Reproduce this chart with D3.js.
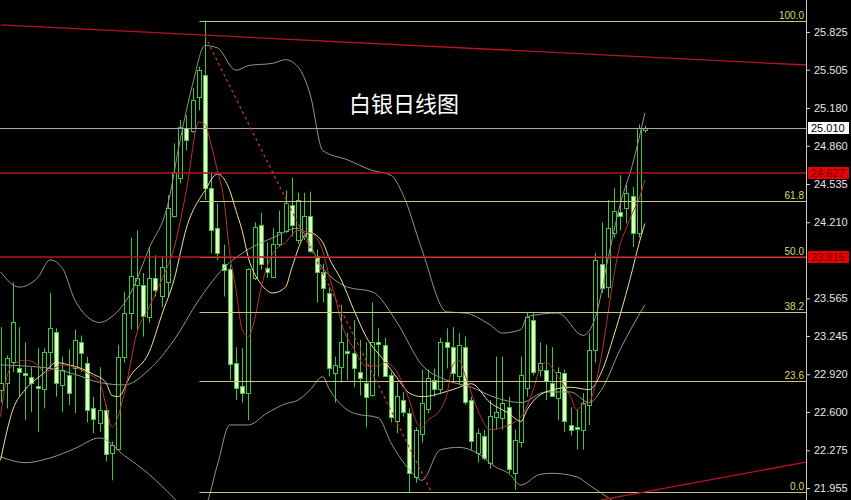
<!DOCTYPE html>
<html><head><meta charset="utf-8">
<script src="https://cdn.jsdelivr.net/npm/d3@7"></script>
<style>html,body{margin:0;padding:0;background:#000;overflow:hidden}</style>
</head><body><svg id="c" width="851" height="500"></svg>
<script>
// ---- data (daily silver candles) ----
const opens  = [22.79,22.85,23.02,22.97,22.93,22.90,22.82,22.80,23.11,23.28,22.83,22.91,22.97,23.19,23.02,22.63,22.51,22.62,22.25,22.29,
23.07,23.44,23.68,23.68,23.41,23.74,23.58,23.70,24.27,24.59,25.01,24.99,25.27,25.46,24.50,24.16,23.86,23.81,23.02,22.82,
22.76,23.74,24.19,23.82,23.75,24.03,24.13,24.36,24.06,24.09,24.26,23.92,23.79,23.61,22.93,22.98,23.12,23.10,22.94,22.85,
22.74,23.19,23.17,22.91,22.53,22.70,22.59,22.05,22.42,22.63,22.87,22.79,23.19,23.15,22.91,23.15,22.70,22.25,22.40,22.17,
22.56,22.55,22.64,22.08,22.34,22.81,23.38,22.96,22.96,22.85,22.72,22.93,22.49,22.47,22.45,22.66,23.13,23.86,23.66,24.12,
24.30,24.33,24.43,24.12,24.99];
const highs  = [23.32,23.08,23.70,23.32,23.19,22.98,23.14,23.14,23.61,23.31,23.07,23.13,23.30,23.25,23.07,22.73,22.98,22.66,22.35,23.17,
23.62,24.08,24.14,23.78,24.00,23.93,23.92,24.44,24.88,25.08,25.12,25.35,25.53,25.92,24.63,24.37,24.02,23.85,23.15,23.14,
23.82,24.21,24.29,24.04,24.16,24.31,24.48,24.59,24.46,24.46,24.47,23.98,23.86,23.66,23.07,23.51,23.27,23.38,23.21,23.19,
23.53,23.31,23.23,22.94,22.85,22.77,22.63,22.47,22.96,22.96,22.97,23.23,23.31,23.32,23.27,23.24,22.73,22.46,22.45,22.70,
23.07,23.07,22.73,22.45,23.07,23.44,23.44,23.19,23.17,23.15,22.98,22.96,22.64,22.62,22.76,23.27,23.95,24.21,24.40,24.50,
24.61,24.53,24.51,25.04,25.03];
const lows   = [22.68,22.63,22.94,22.73,22.53,22.60,22.43,22.63,22.96,22.73,22.60,22.66,22.59,22.94,22.51,22.42,22.43,22.18,22.02,22.28,
23.02,23.30,23.30,23.24,23.36,23.58,23.49,23.58,24.25,24.54,24.82,24.97,25.16,24.40,23.95,23.89,23.58,22.87,22.70,22.68,
22.53,23.72,23.81,23.74,23.74,24.00,24.12,24.09,24.03,24.06,23.95,23.53,23.53,22.90,22.68,22.85,22.87,22.81,22.74,22.47,
22.73,22.90,22.90,22.51,22.42,22.56,21.92,22.00,22.34,22.59,22.73,22.76,22.97,22.85,22.83,22.66,22.28,22.17,22.19,22.12,
22.45,22.45,22.08,21.94,22.30,22.73,22.91,22.90,22.70,22.73,22.53,22.43,22.40,22.28,22.28,22.49,23.02,23.61,23.57,24.08,
24.14,24.20,24.00,24.08,24.97];
const closes = [22.85,23.06,23.36,22.94,22.91,22.85,22.80,23.11,23.31,22.85,22.96,22.76,23.21,23.10,22.62,22.54,22.62,22.25,22.32,23.07,
23.44,23.75,23.74,23.42,23.74,23.64,23.83,24.33,24.64,25.02,24.91,25.25,25.50,24.50,24.14,23.95,23.81,23.00,22.81,22.76,
23.81,24.17,23.86,23.79,24.03,24.13,24.37,24.19,24.40,24.26,23.96,23.78,23.65,22.97,23.00,23.19,23.10,22.97,22.89,22.73,
23.19,23.17,22.91,22.55,22.74,22.60,22.08,22.45,22.68,22.89,22.79,23.19,23.15,22.93,23.17,22.68,22.35,22.42,22.21,22.57,
22.60,22.68,22.11,22.36,22.91,23.41,22.94,23.02,22.87,22.74,22.94,22.52,22.45,22.45,22.68,23.13,23.89,23.66,24.16,24.31,
24.27,24.46,24.12,25.01,25.01];

// indicator lines: [candle index, price]
const maFast = [[0,22.56],[1,22.89],[2,23.00],[4,23.04],[6,23.00],[7,22.94],[9,22.98],[10,23.00],[12,22.98],[14,22.93],[16,22.85],[17,22.66],[18,22.47],
[20,22.76],[22,23.27],[24,23.49],[26,23.72],[28,23.99],[30,24.48],[32,25.06],[33,25.04],[34,24.87],[35,24.65],[36,24.42],[37,23.95],[38,23.64],[39,23.30],
[40,23.24],[41,23.38],[42,23.64],[44,23.95],[46,24.04],[48,24.14],[50,24.12],[52,23.97],[53,23.76],[54,23.58],[55,23.36],[57,23.14],[59,22.99],[61,22.99],
[62,23.02],[64,22.94],[65,22.83],[66,22.70],[67,22.53],[68,22.47],[69,22.53],[71,22.62],[72,22.74],[73,23.00],[74,23.04],[75,22.91],[77,22.62],[79,22.45],
[81,22.47],[84,22.56],[86,22.79],[87,22.96],[88,23.02],[90,22.90],[92,22.73],[93,22.62],[94,22.66],[95,22.68],[96,22.83],[97,23.08],[98,23.42],[99,23.76],
[100,24.02],[101,24.16],[102,24.29],[103,24.40],[104,24.57]];
const maSlow = [[0,22.19],[2,22.62],[4,22.79],[7,22.93],[9,23.02],[11,23.00],[13,22.97],[15,22.92],[17,22.85],[18,22.74],[19,22.73],[21,22.91],[24,23.11],
[26,23.42],[28,23.72],[30,24.16],[33,24.48],[35,24.62],[37,24.48],[38,24.31],[39,24.14],[40,23.91],[42,23.69],[44,23.61],[46,23.66],[47,23.82],[49,24.09],
[50,24.12],[52,24.04],[53,23.91],[55,23.72],[57,23.47],[59,23.24],[62,23.03],[64,22.89],[66,22.76],[68,22.73],[73,22.79],[76,22.84],[79,22.68],[82,22.59],
[84,22.52],[85,22.62],[88,22.77],[92,22.81],[95,22.79],[97,22.94],[99,23.25],[102,23.81],[103,24.02],[104,24.20]];
const bandUpper = [[0,23.79],[3,23.66],[6,23.74],[8,23.89],[10,23.82],[12,23.55],[16,23.36],[18,23.41],[21,23.61],[24,23.99],[27,24.36],[29,24.91],[31,25.38],
[33,25.71],[35,25.69],[38,25.50],[40,25.54],[44,25.56],[46,25.59],[48,25.53],[50,25.29],[52,24.82],[56,24.74],[60,24.65],[63,24.61],[65,24.44],[68,23.98],
[72,23.45],[75,23.44],[79,23.34],[81,23.27],[84,23.30],[85,23.41],[90,23.44],[94,23.25],[96,23.40],[98,23.89],[100,24.36],[102,24.70],[104,25.14]];
const bandMid = [[0,23.00],[4,22.99],[8,22.97],[12,22.92],[16,22.85],[20,22.83],[24,22.96],[28,23.21],[32,23.55],[36,23.82],[40,23.98],[44,24.08],[48,24.16],
[52,23.82],[56,23.66],[60,23.62],[64,23.36],[68,23.00],[72,22.87],[76,22.81],[80,22.72],[84,22.68],[88,22.77],[92,22.77],[95,22.68],[97,22.79],[100,23.13],[104,23.51]];
const bandLower = [[0,22.22],[4,22.17],[8,22.21],[12,22.29],[16,22.38],[20,22.23],[24,22.07],[28,21.87],[30,21.77],[33,21.81],[35,22.15],[37,22.49],[40,22.49],
[43,22.59],[46,22.67],[48,22.70],[50,22.79],[52,22.90],[53,22.80],[57,22.59],[61,22.55],[63,22.34],[66,22.11],[68,22.02],[71,22.28],[74,22.30],[77,22.25],
[80,22.13],[82,22.08],[84,21.98],[87,22.07],[89,22.08],[93,22.05],[95,21.98],[97,21.91],[100,21.81],[104,21.73]];

// drawn objects
const fibHigh = 25.918, fibLow = 21.921, fibStart = 32;
const fibLevels = [0, 23.6, 38.2, 50, 61.8, 100];
const redLevels = [24.627, 23.916];
const lastPrice = 25.010;
const trendTop = [[0,25.885],[130,25.545]];
const trendDotted = [[33,25.79],[69.4,21.937]];
const trendBottom = [[96.8,21.852],[130,22.175]];
const tickValues = [25.825,25.505,25.180,24.860,24.535,24.210,23.565,23.245,22.920,22.600,22.275,21.955];
const title = "白银日线图";

// ---- drawing ----
const svg = d3.select("#c");
svg.append("rect").attr("width",851).attr("height",500).attr("fill","#000");
const plotR = 806;
const x = d3.scaleLinear().domain([0,130]).range([0.5, plotR]);
const y = d3.scaleLinear().domain([21.955,25.825]).range([488,32]);

svg.append("clipPath").attr("id","clip").append("rect").attr("x",0).attr("y",0).attr("width",plotR).attr("height",500);
const g = svg.append("g").attr("clip-path","url(#clip)");

const cx = i => Math.round(x(i)) + 0.5;
const py = v => Math.round(y(v)) + 0.5;

// candles
const green = "#3fc63f", bearFill = "#e4ffc4";
const idx = d3.range(opens.length);
const cg = g.append("g");
cg.selectAll("line.w").data(idx).join("line")
  .attr("x1", i=>cx(i)).attr("x2", i=>cx(i))
  .attr("y1", i=>y(highs[i])).attr("y2", i=>y(lows[i]))
  .attr("stroke", green).attr("stroke-width",1);
cg.selectAll("rect.b").data(idx).join("rect")
  .attr("x", i=>cx(i)-2).attr("width",4)
  .attr("y", i=>py(Math.max(opens[i],closes[i])))
  .attr("height", i=>Math.max(1, Math.round(y(Math.min(opens[i],closes[i])) - y(Math.max(opens[i],closes[i])))))
  .attr("fill", i=> closes[i] < opens[i] ? bearFill : "#000")
  .attr("stroke", green).attr("stroke-width",1);

// indicator lines
const lineGen = d3.line().x(d=>x(d[0])).y(d=>y(d[1])).curve(d3.curveMonotoneX);
const addLine = (data,color) => g.append("path").datum(data).attr("d",lineGen)
  .attr("fill","none").attr("stroke",color).attr("stroke-width",1);
addLine(bandUpper,"#8e9a86");
addLine(bandMid,"#8e9a86");
addLine(bandLower,"#8e9a86");
addLine(maSlow,"#ece49a");
addLine(maFast,"#b83238");

// horizontal levels
g.append("line").attr("x1",0).attr("x2",plotR).attr("y1",py(lastPrice)).attr("y2",py(lastPrice))
  .attr("stroke","#a8a8a8").attr("stroke-width",1);

// fibonacci
fibLevels.forEach(l=>{
  const v = fibLow + (fibHigh-fibLow)*l/100;
  g.append("line").attr("x1",cx(fibStart)).attr("x2",plotR).attr("y1",py(v)).attr("y2",py(v))
   .attr("stroke","#c8c67c").attr("stroke-width",1);
  svg.append("text").attr("x",plotR-2).attr("y",py(v)-3).attr("text-anchor","end")
   .attr("font-family","Liberation Sans, Arial, sans-serif").attr("font-size",10)
   .attr("fill","#dcd872").text(l.toFixed(1));
});

redLevels.forEach(v=>{
  g.append("line").attr("x1",0).attr("x2",plotR).attr("y1",Math.round(y(v))).attr("y2",Math.round(y(v)))
   .attr("stroke","#b8101e").attr("stroke-width",1.6);
});

// trend lines
const tl = d3.line().x(d=>x(d[0])).y(d=>y(d[1]));
g.append("path").datum(trendTop).attr("d",tl).attr("stroke","#b81424").attr("stroke-width",1.3).attr("fill","none");
g.append("path").datum(trendBottom).attr("d",tl).attr("stroke","#b81424").attr("stroke-width",1.3).attr("fill","none");
g.append("path").datum(trendDotted).attr("d",tl).attr("stroke","#c0303a").attr("stroke-width",1.3)
  .attr("stroke-dasharray","3,3").attr("fill","none");

// title
svg.append("text").attr("x",404).attr("y",112).attr("text-anchor","middle")
  .attr("font-family","Noto Sans CJK SC, sans-serif").attr("font-size",22).attr("fill","#ffffff").text(title);

// axis
svg.append("line").attr("x1",plotR+0.5).attr("x2",plotR+0.5).attr("y1",0).attr("y2",500).attr("stroke","#c8c8c8");
const axis = d3.axisRight(y).tickValues(tickValues).tickFormat(d3.format(".3f")).tickSize(3).tickPadding(4);
const ag = svg.append("g").attr("transform",`translate(${plotR+1},0)`).call(axis);
ag.select(".domain").remove();
ag.selectAll("line").attr("stroke","#d0d0d0");
ag.selectAll("text").attr("fill","#e6e6e6").attr("font-family","Liberation Sans, Arial, sans-serif").attr("font-size",11);

// price labels on the axis
const tag = (v,bg,fg) => {
  const yy = Math.round(y(v));
  svg.append("rect").attr("x",plotR+2).attr("y",yy-6).attr("width",41).attr("height",12).attr("fill",bg);
  svg.append("text").attr("x",plotR+5).attr("y",yy+4).attr("font-family","Liberation Sans, Arial, sans-serif")
    .attr("font-size",11).attr("fill",fg).text(v.toFixed(3));
};
redLevels.forEach(v=>tag(v,"#e60000","#6a0000"));
tag(lastPrice,"#ffffff","#000000");
</script></body></html>
